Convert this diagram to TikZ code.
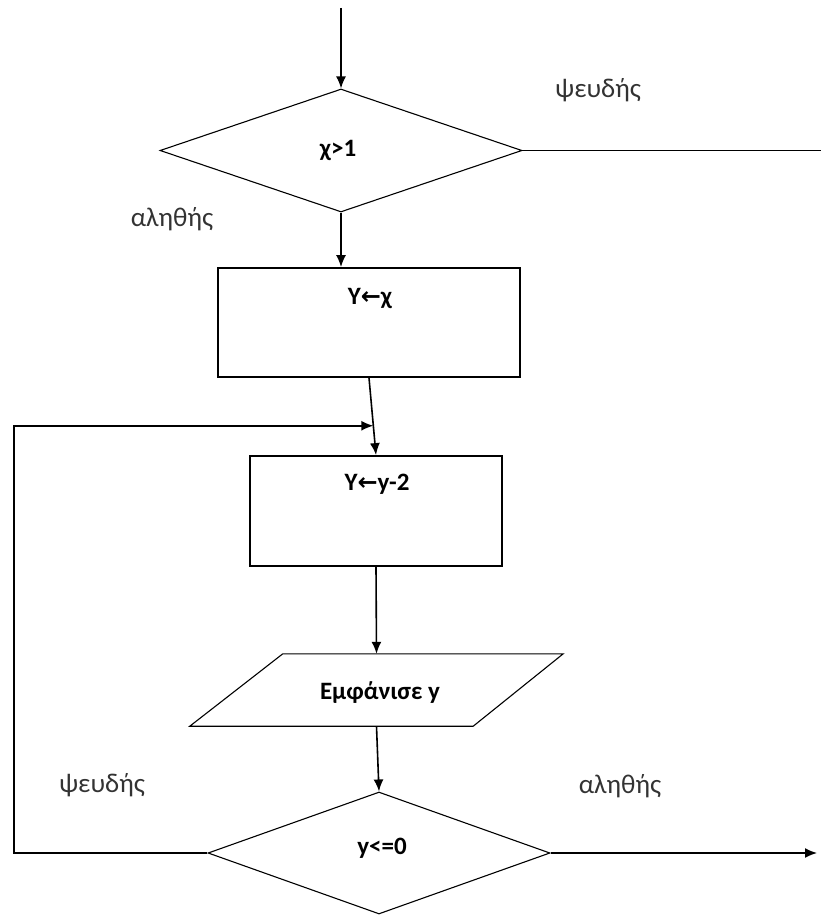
\documentclass[tikz,border=0pt]{standalone}
\usepackage{fontspec}
\setmainfont{Carlito}
\newfontfamily\symfont{DejaVu Sans}
\usetikzlibrary{shapes.geometric,arrows.meta,calc}
\newcommand{\larr}{{\symfont\fontsize{24}{26}\selectfont ←}}
\begin{document}
\begin{tikzpicture}[x=1pt,y=-1pt,
  ln/.style={line width=1.6pt},
  arr/.style={line width=1.6pt,-{Latex[length=12pt,width=10pt]}},
  proc/.style={draw,rectangle,inner sep=0pt,line width=1.8pt},
  dec/.style={draw,diamond,inner sep=0pt,line width=1.1pt},
  io/.style={draw,line width=1.1pt},
  ghost/.style={rectangle,inner sep=0pt},
  lbl/.style={font=\fontsize{27}{30}\selectfont,text=black!80},
  bld/.style={font=\bfseries\fontsize{25}{28}\selectfont,text=black}]
\useasboundingbox (0,0) rectangle (821,915);

\coordinate (start) at (341,8);
\node[dec,minimum width=362,minimum height=123] (d1) at (341,150.5) {};
\node[bld] (d1t) at (338,150) {χ>1};
\coordinate (fend) at (821,150.5);
\node[lbl] (f1) at (598,90) {ψευδής};
\node[lbl] (a1) at (172,219) {αληθής};

\node[proc,minimum width=302,minimum height=109] (r1) at (369,322.5) {};
\node[bld] (r1t) at (370,298) {Y\larr χ};

\node[proc,minimum width=252,minimum height=110] (r2) at (376,511) {};
\node[bld] (r2t) at (377,484) {Y\larr y-2};

\node[ghost,minimum width=373,minimum height=72] (p) at (376.5,690) {};
\draw[io] ([xshift=93pt]p.north west) -- (p.north east) -- ([xshift=-90pt]p.south east) -- (p.south west) -- cycle;
\node[bld] (pt) at (380,693) {Εμφάνισε y};

\node[dec,minimum width=342,minimum height=122] (d2) at (379,853) {};
\node[bld] (d2t) at (382,848) {y<=0};
\coordinate (tend) at (817,853);
\node[lbl] (f2) at (102,785) {ψευδής};
\node[lbl] (a2) at (620,786) {αληθής};

\coordinate (lc) at (14,0);
\coordinate (join) at ($(r1.south)!0.62!(r2.north)$);

\draw[arr] (start) -- (d1.north);
\draw[ln] (d1.east) -- (fend);
\draw[arr] (d1.south) -- (d1.south |- r1.north);
\draw[arr] (r1.south) -- (r2.north);
\draw[arr] (d2.west) -- (lc |- d2.west) -- (lc |- join) -- (join);
\draw[arr] (r2.south) -- (p.north);
\draw[arr] (p.south) -- (d2.north);
\draw[arr] (d2.east) -- (tend);
\end{tikzpicture}
\end{document}
